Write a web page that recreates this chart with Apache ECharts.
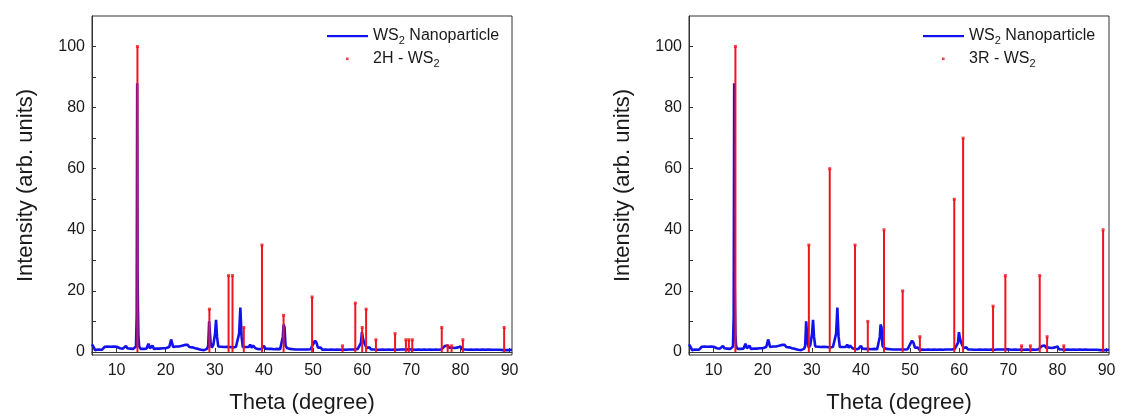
<!DOCTYPE html>
<html>
<head>
<meta charset="utf-8">
<title>WS2 XRD patterns</title>
<script src="https://cdn.jsdelivr.net/npm/echarts@6/dist/echarts.min.js"></script>
<style>
  html, body { margin: 0; padding: 0; background: #ffffff; }
  #chart { width: 1122px; height: 419px; }
</style>
</head>
<body>
<div id="chart"></div>
<script>
// Measured XRD pattern of the WS2 nanoparticles: [2theta (degree), intensity (arb. units)]
const nanoparticle = [
  [5.0, 2.5], [5.2, 2.1], [5.4, 1.4], [5.6, 0.6], [6.0, 0.4], [6.3, 0.8], [6.6, 0.5], [7.0, 0.7], [7.3, 1.3], [7.6, 1.7],
  [7.9, 1.1], [8.2, 1.8], [8.5, 1.2], [8.8, 1.7], [9.1, 1.1], [9.4, 1.8], [9.7, 1.3], [10.0, 1.7], [10.4, 2.2], [10.7, 1.2],
  [11.0, 1.8], [11.3, 1.1], [11.6, 1.7], [11.9, 2.0], [12.2, 1.2], [12.5, 1.8], [12.8, 1.1], [13.1, 1.6], [13.4, 1.0],
  [13.7, 1.6], [13.95, 1.8],
  [14.1, 12], [14.2, 88], [14.28, 26], [14.36, 14], [14.45, 5], [14.6, 1.8],
  [14.9, 1.0], [15.2, 1.6], [15.5, 1.0], [15.8, 1.6], [16.1, 1.1], [16.5, 2.7], [16.8, 1.2], [17.1, 1.6], [17.3, 2.1],
  [17.6, 1.0], [17.9, 1.6], [18.2, 1.1], [18.5, 1.7], [18.8, 1.1], [19.1, 1.6], [19.4, 1.2], [19.7, 1.8], [20.0, 1.2],
  [20.3, 1.7], [20.7, 1.6], [20.9, 2.6], [21.1, 4.1], [21.3, 3.0], [21.5, 1.6], [21.8, 1.2], [22.1, 1.8], [22.4, 1.2],
  [22.7, 1.8], [23.0, 1.4], [23.3, 2.0], [23.6, 1.6], [23.9, 2.3], [24.2, 1.7], [24.5, 2.3], [24.8, 1.6], [25.1, 2.1],
  [25.4, 1.5], [25.7, 1.9], [26.0, 1.2], [26.3, 1.7], [26.6, 1.0], [26.9, 1.4], [27.2, 0.7], [27.5, 1.0], [27.8, 0.6],
  [28.1, 1.2], [28.4, 1.0], [28.65, 1.9], [28.85, 10], [29.0, 9.5], [29.15, 3], [29.4, 1.4], [29.7, 2.3], [29.9, 2.0],
  [30.05, 6], [30.25, 10.5], [30.45, 5], [30.7, 1.8], [31.0, 1.2], [31.3, 1.7], [31.6, 1.1], [31.9, 1.6], [32.2, 1.0],
  [32.5, 1.7], [32.8, 1.1], [33.1, 1.6], [33.4, 1.0], [33.7, 1.5], [34.0, 1.1], [34.3, 1.6], [34.6, 1.8], [34.95, 6],
  [35.2, 14.5], [35.45, 5], [35.7, 1.6], [36.0, 1.0], [36.3, 1.6], [36.6, 1.1], [36.9, 1.6], [37.2, 2.4], [37.5, 1.4],
  [37.8, 2.1], [38.0, 2.4], [38.3, 1.2], [38.6, 1.5], [38.9, 0.9], [39.2, 1.5], [39.5, 1.0], [39.8, 1.6], [40.0, 2.0],
  [40.3, 1.1], [40.6, 1.6], [40.9, 1.0], [41.2, 1.5], [41.5, 1.0], [41.8, 1.5], [42.1, 0.9], [42.4, 1.5], [42.7, 1.0],
  [43.0, 1.4], [43.3, 0.9], [43.6, 1.4], [43.85, 5], [44.0, 9.0], [44.2, 8.0], [44.4, 2.0], [44.7, 1.3], [45.0, 1.9],
  [45.3, 1.0], [45.6, 1.5], [45.9, 0.9], [46.2, 1.4], [46.5, 0.8], [46.8, 1.3], [47.1, 0.8], [47.4, 1.3], [47.7, 0.8],
  [48.0, 1.4], [48.3, 0.8], [48.6, 1.3], [48.9, 0.8], [49.2, 1.3], [49.5, 0.9], [49.8, 1.5], [50.1, 2.8], [50.4, 3.7],
  [50.7, 3.0], [51.0, 1.4], [51.3, 0.9], [51.6, 1.4], [51.9, 0.7], [52.2, 1.3], [52.5, 0.8], [52.8, 1.3], [53.1, 0.7],
  [53.4, 1.2], [53.7, 0.8], [54.0, 1.3], [54.3, 0.7], [54.6, 1.2], [54.9, 0.8], [55.2, 1.3], [55.5, 0.7], [55.8, 1.2],
  [56.1, 0.8], [56.4, 1.2], [56.7, 0.7], [57.0, 1.3], [57.3, 0.8], [57.6, 1.3], [57.9, 0.8], [58.2, 1.2], [58.5, 0.8],
  [58.8, 1.3], [59.1, 1.0], [59.4, 1.6], [59.75, 3.0], [59.95, 6.5], [60.15, 4.5], [60.4, 3.0], [60.6, 2.4], [60.9, 1.3],
  [61.2, 0.9], [61.5, 1.5], [61.8, 0.8], [62.1, 1.3], [62.4, 0.8], [62.7, 1.2], [63.0, 0.7], [63.3, 1.2], [63.6, 0.7],
  [63.9, 1.3], [64.2, 0.8], [64.5, 1.2], [64.8, 0.7], [65.1, 1.2], [65.4, 0.8], [65.7, 1.3], [66.0, 0.7], [66.3, 1.2],
  [66.6, 0.8], [66.9, 1.2], [67.2, 0.7], [67.5, 1.2], [67.8, 0.8], [68.1, 1.3], [68.4, 0.8], [68.7, 1.2], [69.0, 0.8],
  [69.3, 1.3], [69.6, 0.9], [69.9, 1.4], [70.2, 0.8], [70.5, 1.2], [70.8, 0.7], [71.1, 1.2], [71.4, 0.8], [71.7, 1.2],
  [72.0, 0.7], [72.3, 1.1], [72.6, 0.8], [72.9, 1.2], [73.2, 0.7], [73.5, 1.2], [73.8, 0.8], [74.1, 1.2], [74.4, 0.7],
  [74.7, 1.2], [75.0, 0.8], [75.3, 1.1], [75.6, 0.7], [75.9, 1.2], [76.2, 0.9], [76.5, 1.5], [76.8, 1.9], [77.1, 1.6],
  [77.4, 2.1], [77.7, 1.4], [78.0, 1.0], [78.3, 1.4], [78.6, 0.8], [78.9, 1.3], [79.2, 0.9], [79.5, 1.5], [79.8, 1.2],
  [80.0, 1.8], [80.3, 0.9], [80.6, 1.3], [80.9, 0.8], [81.2, 1.2], [81.5, 0.7], [81.8, 1.2], [82.1, 0.8], [82.4, 1.1],
  [82.7, 0.7], [83.0, 1.2], [83.3, 0.8], [83.6, 1.1], [83.9, 0.7], [84.2, 1.1], [84.5, 0.8], [84.8, 1.2], [85.1, 0.7],
  [85.4, 1.1], [85.7, 0.8], [86.0, 1.1], [86.3, 0.7], [86.6, 1.1], [86.9, 0.7], [87.2, 1.0], [87.5, 0.7], [87.8, 1.1],
  [88.1, 0.7], [88.4, 1.0], [88.7, 0.6], [89.0, 1.0], [89.3, 0.6], [89.6, 0.9], [89.9, 0.6], [90.2, 0.9], [90.5, 0.7]
];

// Reference reflections of hexagonal 2H-WS2
const theta2H = [14.25, 28.9, 32.8, 33.6, 35.9, 39.6, 44.0, 49.8, 56.0, 58.6, 60.0, 60.8, 62.8, 66.7,
  68.9, 69.5, 70.2, 76.2, 77.4, 78.2, 80.5, 88.9];
const intensity2H = [100, 14, 25, 25, 8, 35, 12, 18, 2, 16, 8, 14, 4, 6, 4, 4, 4, 8, 2, 2, 4, 8];

// Reference reflections of rhombohedral 3R-WS2
const theta3R = [14.45, 29.4, 33.65, 38.8, 41.4, 44.7, 48.5, 52.0, 59.0, 60.8, 66.9, 69.4, 72.7, 74.5,
  76.4, 77.9, 81.3, 89.3];
const intensity3R = [100, 35, 60, 35, 10, 40, 20, 5, 50, 70, 15, 25, 2, 2, 25, 5, 2, 40];

// Axis tick labels
const xTickLabels = [10, 20, 30, 40, 50, 60, 70, 80, 90];
const yTickLabels = [0, 20, 40, 60, 80, 100];
const yTickMarks = [0, 10, 20, 30, 40, 50, 60, 70, 80, 90, 100];

const FONT = 'Liberation Sans, Arial, sans-serif';
const TEXT = '#1a1a1a';
const BLUE = '#1212ee';
const RED = '#f0141e';

const chart = echarts.init(document.getElementById('chart'), null, { renderer: 'canvas' });

const pairs = (xs, ys) => xs.map((x, i) => [x, ys[i]]);

// legend label with subscript "2" in WS2
const legendFormatter = name => {
  const k = name.indexOf('WS2');
  const before = name.slice(0, k + 2);
  const after = name.slice(k + 3);
  return '{n|' + before + '}{s|2}' + (after ? '{n|' + after + '}' : '');
};

// legend icons: a plain blue line and a small red dot
const svgIcon = body => 'image://data:image/svg+xml;charset=utf-8,' + encodeURIComponent(
  "<svg xmlns='http://www.w3.org/2000/svg' width='41' height='14'>" + body + '</svg>');
const lineIcon = svgIcon("<rect x='0' y='6' width='41' height='2.2' fill='" + BLUE + "'/>");
const dotIcon = svgIcon("<rect x='19' y='5.5' width='2.6' height='2.6' fill='" + RED + "'/>");

function xAxisFor(gridIndex) {
  return {
    type: 'value', gridIndex, min: 5, max: 90.5,
    axisLine: { show: true, lineStyle: { color: '#333', width: 1 } },
    axisTick: { show: true, inside: true, length: 4, customValues: xTickLabels, lineStyle: { color: '#333' } },
    axisLabel: { customValues: xTickLabels, margin: 8, fontSize: 16, color: TEXT, fontFamily: FONT },
    splitLine: { show: false },
    name: 'Theta (degree)', nameLocation: 'middle', nameGap: 37,
    nameTextStyle: { fontSize: 22, color: TEXT, fontFamily: FONT }
  };
}

function yAxisFor(gridIndex) {
  return {
    type: 'value', gridIndex, min: -1, max: 110,
    axisLine: { show: true, lineStyle: { color: '#333', width: 1 } },
    axisTick: { show: true, inside: true, length: 4, customValues: yTickMarks, lineStyle: { color: '#333' } },
    axisLabel: { customValues: yTickLabels, margin: 7, fontSize: 16, color: TEXT, fontFamily: FONT },
    splitLine: { show: false },
    name: 'Intensity (arb. units)', nameLocation: 'middle', nameGap: 55, nameRotate: 90,
    nameTextStyle: { fontSize: 22, color: TEXT, fontFamily: FONT }
  };
}

function legendFor(left, refName) {
  return {
    orient: 'vertical', left, top: 23,
    itemWidth: 41, itemHeight: 14, itemGap: 5,
    data: [
      { name: 'WS2 Nanoparticle', icon: lineIcon },
      { name: refName, icon: dotIcon }
    ],
    formatter: legendFormatter,
    textStyle: {
      rich: {
        n: { fontSize: 16, color: TEXT, fontFamily: FONT, lineHeight: 20, verticalAlign: 'middle' },
        s: { fontSize: 11, color: TEXT, fontFamily: FONT, lineHeight: 10, verticalAlign: 'bottom' }
      }
    },
    selectedMode: false
  };
}

function seriesFor(idx, refName, thetas, intensities) {
  const refData = pairs(thetas, intensities);
  return [
    {
      name: 'WS2 Nanoparticle', type: 'line', xAxisIndex: idx, yAxisIndex: idx,
      data: nanoparticle, symbol: 'none', showSymbol: false,
      lineStyle: { color: BLUE, width: 2.6 }, itemStyle: { color: BLUE }, z: 2
    },
    {
      name: refName + ' lines', type: 'bar', xAxisIndex: idx, yAxisIndex: idx,
      data: refData, barWidth: 2, itemStyle: { color: RED }, z: 3
    },
    {
      name: refName, type: 'scatter', xAxisIndex: idx, yAxisIndex: idx,
      data: refData, symbol: 'rect', symbolSize: 3, itemStyle: { color: RED }, z: 4
    }
  ];
}

const option = {
  backgroundColor: '#ffffff',
  animation: false,
  grid: [
    { left: 92, right: 610, top: 16, bottom: 63, show: true, borderColor: '#333', borderWidth: 1, backgroundColor: 'transparent' },
    { left: 689, right: 13, top: 16, bottom: 63, show: true, borderColor: '#333', borderWidth: 1, backgroundColor: 'transparent' }
  ],
  xAxis: [xAxisFor(0), xAxisFor(1)],
  yAxis: [yAxisFor(0), yAxisFor(1)],
  legend: [legendFor(322, '2H - WS2'), legendFor(918, '3R - WS2')],
  series: [
    ...seriesFor(0, '2H - WS2', theta2H, intensity2H),
    ...seriesFor(1, '3R - WS2', theta3R, intensity3R)
  ]
};

chart.setOption(option);
</script>
</body>
</html>
